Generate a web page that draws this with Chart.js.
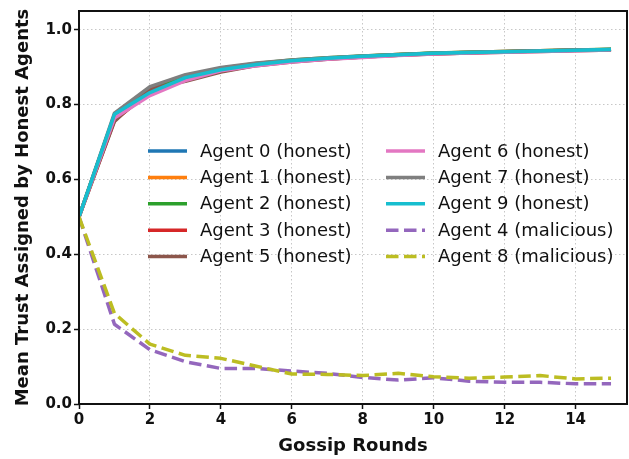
<!DOCTYPE html>
<html lang="en">
<head>
  <meta charset="UTF-8">
  <title>Mean Trust per Agent</title>
  <script src="https://cdn.jsdelivr.net/npm/chart.js"></script>
  <style>
    body { margin: 0; background: #fff; }
    #wrap { width: 629px; height: 459px; }
  </style>
</head>
<body>
<div id="wrap"><canvas id="trustChart" width="629" height="459"></canvas></div>

<script>
// gossip rounds and tick labels
const rounds = [0, 1, 2, 3, 4, 5, 6, 7, 8, 9, 10, 11, 12, 13, 14, 15];
const xTicks = [0, 2, 4, 6, 8, 10, 12, 14];
const yTicks = [0.0, 0.2, 0.4, 0.6, 0.8, 1.0];

// mean trust given by honest agents
const agent0 = [0.5, 0.772, 0.835, 0.872, 0.894, 0.908, 0.917, 0.924, 0.929, 0.933, 0.937, 0.939, 0.941, 0.943, 0.945, 0.947];
const agent1 = [0.5, 0.770, 0.838, 0.874, 0.895, 0.909, 0.918, 0.924, 0.929, 0.934, 0.937, 0.940, 0.942, 0.944, 0.946, 0.947];
const agent2 = [0.5, 0.771, 0.840, 0.876, 0.897, 0.910, 0.919, 0.925, 0.930, 0.934, 0.938, 0.940, 0.942, 0.944, 0.946, 0.948];
const agent3 = [0.5, 0.758, 0.834, 0.866, 0.889, 0.905, 0.915, 0.922, 0.927, 0.932, 0.936, 0.938, 0.941, 0.943, 0.945, 0.946];
const agent5 = [0.5, 0.755, 0.843, 0.862, 0.887, 0.904, 0.914, 0.921, 0.927, 0.932, 0.935, 0.938, 0.940, 0.942, 0.944, 0.946];
const agent6 = [0.5, 0.764, 0.824, 0.864, 0.890, 0.904, 0.914, 0.921, 0.926, 0.931, 0.935, 0.938, 0.940, 0.942, 0.944, 0.946];
const agent7 = [0.5, 0.777, 0.848, 0.880, 0.899, 0.911, 0.919, 0.925, 0.930, 0.934, 0.937, 0.940, 0.942, 0.944, 0.946, 0.947];
const agent9 = [0.5, 0.774, 0.832, 0.872, 0.893, 0.907, 0.917, 0.924, 0.929, 0.933, 0.937, 0.939, 0.941, 0.943, 0.945, 0.947];
const agent4 = [0.5, 0.213, 0.145, 0.113, 0.095, 0.095, 0.088, 0.082, 0.071, 0.064, 0.070, 0.061, 0.058, 0.058, 0.054, 0.054];
const agent8 = [0.5, 0.242, 0.160, 0.130, 0.122, 0.101, 0.080, 0.079, 0.076, 0.082, 0.073, 0.069, 0.072, 0.076, 0.067, 0.069];

const series = [
  { label: 'Agent 0 (honest)', data: agent0, color: '#1f77b4', dashed: false },
  { label: 'Agent 1 (honest)', data: agent1, color: '#ff7f0e', dashed: false },
  { label: 'Agent 2 (honest)', data: agent2, color: '#2ca02c', dashed: false },
  { label: 'Agent 3 (honest)', data: agent3, color: '#d62728', dashed: false },
  { label: 'Agent 5 (honest)', data: agent5, color: '#8c564b', dashed: false },
  { label: 'Agent 6 (honest)', data: agent6, color: '#e377c2', dashed: false },
  { label: 'Agent 7 (honest)', data: agent7, color: '#7f7f7f', dashed: false },
  { label: 'Agent 9 (honest)', data: agent9, color: '#17becf', dashed: false },
  { label: 'Agent 4 (malicious)', data: agent4, color: '#9467bd', dashed: true },
  { label: 'Agent 8 (malicious)', data: agent8, color: '#bcbd22', dashed: true }
];

const DASH = [12.5, 5.5];
const LW = 3.5;

// matplotlib-style legend (2 columns, no frame) + axes frame
const frameAndLegend = {
  id: 'frameAndLegend',
  afterDraw(chart) {
    const ctx = chart.ctx;
    const a = chart.chartArea;
    ctx.save();
    ctx.strokeStyle = '#111';
    ctx.lineWidth = 2;
    ctx.setLineDash([]);
    ctx.strokeRect(a.left, a.top, a.right - a.left, a.bottom - a.top);

    ctx.font = '18px "DejaVu Sans"';
    ctx.textBaseline = 'middle';
    ctx.fillStyle = '#111';
    const cols = [{ x: 148, tx: 200 }, { x: 386, tx: 438 }];
    chart.data.datasets.forEach((ds, i) => {
      const col = cols[i < 5 ? 0 : 1];
      const y = 151 + (i % 5) * 26.4;
      ctx.beginPath();
      ctx.strokeStyle = ds.borderColor;
      ctx.lineWidth = LW;
      ctx.lineCap = 'butt';
      ctx.setLineDash(ds.borderDash || []);
      ctx.moveTo(col.x, y);
      ctx.lineTo(col.x + 39, y);
      ctx.stroke();
      ctx.setLineDash([]);
      ctx.fillText(ds.label, col.tx, y + 1);
    });
    ctx.restore();
  }
};

const tickFont = { family: 'DejaVu Sans', size: 15, weight: 'bold' };
const titleFont = { family: 'DejaVu Sans', size: 18, weight: 'bold' };

new Chart(document.getElementById('trustChart'), {
  type: 'line',
  data: {
    labels: rounds,
    datasets: series.map((s, i) => ({
      label: s.label,
      data: s.data.map((v, k) => ({ x: rounds[k], y: v })),
      borderColor: s.color,
      backgroundColor: s.color,
      borderWidth: LW,
      borderDash: s.dashed ? DASH : [],
      borderJoinStyle: 'round',
      pointRadius: 0,
      tension: 0,
      fill: false,
      order: -i
    }))
  },
  options: {
    responsive: false,
    devicePixelRatio: 1,
    animation: false,
    layout: { padding: { top: 5, right: 2, left: 0, bottom: 0 } },
    plugins: { legend: { display: false }, tooltip: { enabled: false } },
    scales: {
      x: {
        type: 'linear',
        min: 0,
        max: 15.45,
        afterBuildTicks: s => { s.ticks = xTicks.map(v => ({ value: v })); },
        afterFit: s => { s.height = 55; },
        ticks: { font: tickFont, color: '#111', padding: 2, maxRotation: 0, callback: v => String(v) },
        grid: { color: 'rgba(0,0,0,0.22)', lineWidth: 1, tickLength: 5, tickColor: '#111', tickWidth: 1.5 },
        border: { display: false, dash: [1.5, 2.5] },
        title: { display: true, text: 'Gossip Rounds', font: titleFont, color: '#111', padding: { top: 0, bottom: 2 } }
      },
      y: {
        min: 0,
        max: 1.05,
        afterBuildTicks: s => { s.ticks = yTicks.map(v => ({ value: v })); },
        afterFit: s => { s.width = 79; },
        ticks: { font: tickFont, color: '#111', padding: 2, callback: v => v.toFixed(1) },
        grid: { color: 'rgba(0,0,0,0.22)', lineWidth: 1, tickLength: 5, tickColor: '#111', tickWidth: 1.5 },
        border: { display: false, dash: [1.5, 2.5] },
        title: { display: true, text: 'Mean Trust Assigned by Honest Agents', font: titleFont, color: '#111', padding: { top: 13, bottom: 0 } }
      }
    }
  },
  plugins: [frameAndLegend]
});
</script>
</body>
</html>
